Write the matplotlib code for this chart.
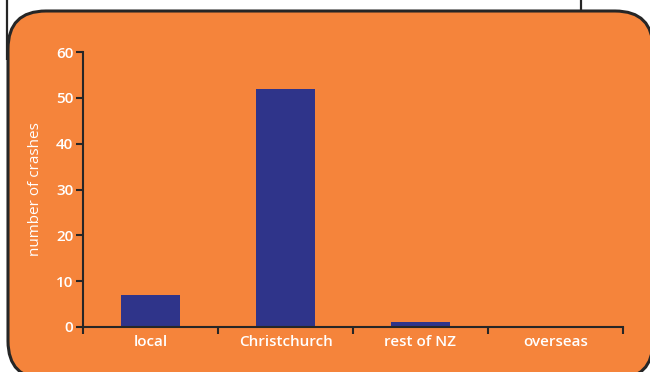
import matplotlib
matplotlib.use("Agg")
import matplotlib.pyplot as plt
from matplotlib.patches import FancyBboxPatch

categories = ["local", "Christchurch", "rest of NZ", "overseas"]
crashes = [7, 52, 1, 0]
yticks = [0, 10, 20, 30, 40, 50, 60]

ORANGE = "#F5843B"
BAR = "#2F348A"
DARK = "#262626"

plt.rcParams['font.family'] = ['Open Sans', 'DejaVu Sans']
plt.rcParams['font.weight'] = 'semibold'

W, H = 650, 372
fig = plt.figure(figsize=(W / 100, H / 100), dpi=100, facecolor="white")

bg = fig.add_axes([0, 0, 1, 1], zorder=0)
bg.set_xlim(0, W)
bg.set_ylim(H, 0)
bg.axis("off")
bg.plot([6.5, 6.5], [0, 60], color=DARK, lw=1.6, solid_capstyle="butt")
bg.plot([581, 581], [0, 12], color=DARK, lw=1.6, solid_capstyle="butt")
box = FancyBboxPatch((8, 11), 645, 368, boxstyle="round,pad=0,rounding_size=38",
                     facecolor=ORANGE, edgecolor=DARK, linewidth=2.2)
bg.add_patch(box)

ax = fig.add_axes([83 / W, 45 / H, 540 / W, 275 / H], zorder=1)
ax.patch.set_alpha(0)
x = [i + 0.5 for i in range(len(categories))]
ax.bar(x, crashes, width=0.43, color=BAR, zorder=2)
ax.set_xlim(0, 4)
ax.set_ylim(0, 60)
ax.set_yticks(yticks)
ax.set_xticks(x)
ax.set_xticklabels(categories)
ax.set_xticks(range(5), minor=True)
for s in ["top", "right"]:
    ax.spines[s].set_visible(False)
for s in ["left", "bottom"]:
    ax.spines[s].set_color(DARK)
    ax.spines[s].set_linewidth(1.5)
ax.tick_params(axis="x", which="major", length=0, pad=6, labelsize=11, labelcolor="white")
ax.tick_params(axis="x", which="minor", length=5, width=1.5, color=DARK, direction="out")
ax.tick_params(axis="y", length=5, width=1.5, color=DARK, pad=2, labelsize=11, labelcolor="white")
ax.set_ylabel("number of crashes", color="white", fontsize=11, labelpad=9)

fig.savefig("out.png", dpi=100, facecolor="white")
